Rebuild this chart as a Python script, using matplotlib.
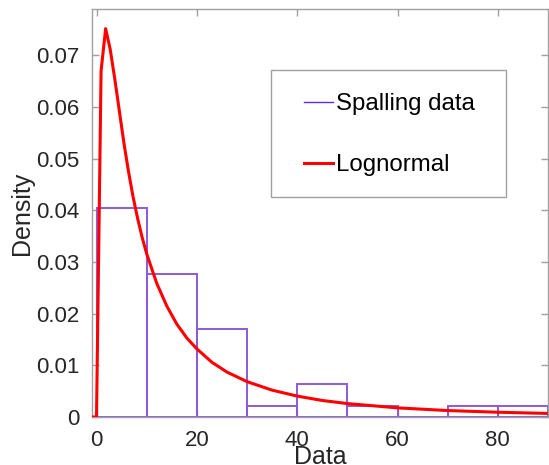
import matplotlib
matplotlib.use("Agg")
import matplotlib.pyplot as plt
from matplotlib.lines import Line2D
from matplotlib.patches import Rectangle

plt.rcParams['font.family'] = ['Liberation Sans', 'DejaVu Sans']

# Histogram (density) of spalling data, bin width 10
bin_edges = [0, 10, 20, 30, 40, 50, 60, 70, 80, 90]
bin_heights = [0.0404, 0.0277, 0.0170, 0.00213, 0.00638, 0.00213, 0.0, 0.00213, 0.00213]

# Fitted lognormal curve
curve_x = [-0.9, 0.0, 0.909, 1.818, 2.727, 3.636, 4.545, 5.455, 6.364, 7.273, 8.182,
           9.091, 10, 12, 14, 16, 18, 20, 23, 26, 30, 35, 40, 45, 50, 60, 70, 80, 90]
curve_y = [0.0, 0.0, 0.067, 0.0752, 0.0712, 0.0655, 0.0593, 0.0531, 0.0476, 0.0427, 0.0385,
           0.0348, 0.0316, 0.0259, 0.0215, 0.0180, 0.0153, 0.0132, 0.0106, 0.0087, 0.00685,
           0.0052, 0.00405, 0.0032, 0.0026, 0.00177, 0.00125, 0.00092, 0.00069]

xticks = [0, 20, 40, 60, 80]
yticks = [0, 0.01, 0.02, 0.03, 0.04, 0.05, 0.06, 0.07]
ytick_labels = ['0', '0.01', '0.02', '0.03', '0.04', '0.05', '0.06', '0.07']

hist_color = '#8c5ad8'
legend_hist_color = '#6a2ad8'
red = '#ff0000'
axis_color = '#a0a0a0'
text_color = '#262626'

W, H = 549, 465
fig = plt.figure(figsize=(W / 100, H / 100), dpi=100)
ax = fig.add_axes([92 / W, 1 - 417 / H, (548 - 92) / W, (417 - 9) / H])

widths = [bin_edges[i + 1] - bin_edges[i] for i in range(len(bin_heights))]
ax.bar(bin_edges[:-1], bin_heights, width=widths, align='edge', fill=False,
       edgecolor=hist_color, linewidth=1.4, zorder=2)
ax.plot(curve_x, curve_y, color=red, linewidth=2.2, zorder=3)

ax.set_xlim(-0.9, 90)
ax.set_ylim(0, 0.079)
ax.set_xticks(xticks)
ax.set_yticks(yticks)
ax.set_yticklabels(ytick_labels)

for s in ax.spines.values():
    s.set_color(axis_color)
    s.set_linewidth(1.0)
ax.tick_params(direction='in', length=5, width=1, color=axis_color,
               labelsize=16, labelcolor=text_color, top=True, right=True)
ax.tick_params(axis='x', pad=9)
ax.tick_params(axis='y', pad=9)

ax.set_xlabel('Data', fontsize=18, color=text_color)
ax.xaxis.set_label_coords(0.5, -0.068)
ax.set_ylabel('Density', fontsize=18, color=text_color)
ax.yaxis.set_label_coords(-0.128, 0.5)

# legend frame
ax.add_patch(Rectangle((271 / W, 1 - 197 / H), (506 - 271) / W, (197 - 70) / H,
                       transform=fig.transFigure, fill=True, facecolor='white',
                       edgecolor=axis_color, linewidth=1.0, zorder=5, clip_on=False))

handles = [Line2D([], [], color=legend_hist_color, linewidth=1.0),
           Line2D([], [], color=red, linewidth=2.2)]
leg = ax.legend(handles, ['Spalling data', 'Lognormal'], loc='upper left',
                bbox_to_anchor=(304 / W, 1 - 93 / H), bbox_transform=fig.transFigure,
                fontsize=17.3, frameon=False, borderpad=0,
                labelspacing=1.62, handlelength=1.2, handletextpad=0.15,
                borderaxespad=0)
leg.set_zorder(6)
for t in leg.get_texts():
    t.set_color('#000000')

fig.savefig('out.png', dpi=100)
